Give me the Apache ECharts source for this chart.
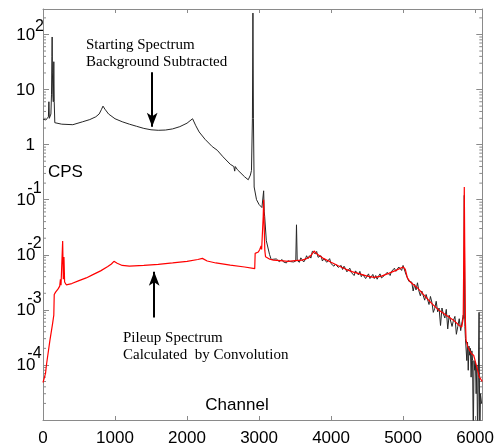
<!DOCTYPE html>
<html><head><meta charset="utf-8">
<script src="https://cdn.jsdelivr.net/npm/echarts@6/dist/echarts.min.js"></script>
<style>html,body{margin:0;padding:0;background:#fff}#c{width:497px;height:447px}</style>
</head><body><div id="c"></div>
<script>
// [channel, counts per second]
const startingSpectrum = [
 [0,2.9],[40,2.8],[60,2.9],[75,3.2],[82,6.0],[88,3.0],[100,2.9],[110,3.6],[118,8],[124,40],[127,90],[131,20],[137,8],[143,6],[150,32],[156,6],[164,2.5],[190,2.4],[260,2.35],[414,2.3],[551,2.6],[650,2.85],[733,3.2],[780,3.6],[810,4.3],[833,5.0],[860,4.4],[910,3.6],[1000,2.95],[1100,2.6],[1200,2.35],[1300,2.15],[1400,1.97],[1500,1.86],[1600,1.82],[1700,1.84],[1800,1.93],[1900,2.12],[2000,2.45],[2077,2.95],[2122,2.2],[2168,1.7],[2250,1.25],[2350,0.92],[2420,0.79],[2500,0.6],[2600,0.44],[2650,0.40],[2662,0.33],[2670,0.40],[2700,0.35],[2800,0.26],[2850,0.23],[2880,0.28],[2895,0.34],[2908,3],[2915,245],[2922,3],[2932,0.17],[2965,0.10],[3000,0.082],[3040,0.072],[3056,0.07],[3064,0.145],[3072,0.06],[3078,0.05],[3101,0.018],[3146,0.0101],[3169,0.0082],
 [3200,0.0083],[3220,0.0077],[3240,0.0084],[3260,0.0080],[3280,0.0075],[3300,0.0076],[3320,0.0082],[3340,0.0074],[3360,0.0078],[3380,0.0071],[3400,0.0078],[3420,0.0076],[3440,0.0075],[3460,0.0081],[3480,0.0074],[3500,0.0080],[3510,0.0077],[3520,0.035],[3530,0.0079],
 [3540,0.0084],[3560,0.0073],[3580,0.0088],[3600,0.0082],[3620,0.0074],[3640,0.0081],[3660,0.0096],[3680,0.0085],[3700,0.0096],[3720,0.0087],[3740,0.0116],[3760,0.0116],[3780,0.0104],[3800,0.0115],[3820,0.0090],[3840,0.0097],[3860,0.0096],[3880,0.0077],[3900,0.0085],[3920,0.0089],[3940,0.0073],[3960,0.0074],[3980,0.0085],
 [4000,0.0069],[4020,0.0075],[4040,0.0062],[4060,0.0068],[4080,0.0072],[4100,0.0059],[4120,0.0060],[4140,0.0064],[4160,0.0054],[4180,0.0062],[4200,0.0056],[4220,0.0049],[4240,0.0050],[4260,0.0057],[4280,0.0048],[4300,0.0051],[4320,0.0042],[4340,0.0051],[4360,0.0047],[4380,0.0043],[4400,0.0050],[4420,0.0040],[4440,0.0044],[4460,0.0046],[4480,0.0037],[4500,0.0041],[4520,0.0045],[4540,0.0037],[4560,0.0038],[4580,0.0044],[4600,0.0037],[4620,0.0042],[4640,0.0036],[4660,0.0041],[4680,0.0045],[4700,0.0038],[4720,0.0041],[4740,0.0042],[4760,0.0040],[4780,0.0048],[4800,0.0047],[4820,0.0042],[4840,0.0050],[4860,0.0046],[4880,0.0057],[4900,0.0050],[4920,0.0050],[4940,0.0060],[4960,0.0057],[4980,0.0052],
 [5000,0.0064],[5020,0.0060],[5040,0.0044],[5060,0.0044],[5080,0.0033],[5100,0.0032],[5120,0.0032],[5140,0.0022],[5160,0.0029],[5180,0.0023],[5200,0.0031],[5220,0.0022],[5240,0.0018],[5260,0.0022],[5280,0.0023],[5300,0.0015],[5320,0.0019],[5340,0.0018],[5360,0.00125],[5380,0.00175],[5400,0.00137],[5420,0.0009],[5440,0.00107],[5460,0.00143],[5480,0.00092],[5500,0.00108],[5520,0.00052],[5540,0.00108],[5560,0.00084],[5580,0.00071],[5600,0.00102],[5620,0.00045],[5640,0.0008],[5660,0.00084],[5680,0.0005],[5700,0.00065],[5720,0.00076],[5740,0.00036],[5760,0.0005],[5780,0.00069],[5800,0.00042],[5820,0.00062],[5835,0.0008],[5843,0.0007],[5850,0.12],[5858,0.0005],
 [5866,0.00030],[5875,0.00032],[5885,0.00012],[5895,0.00026],[5905,0.00008],[5915,0.00022],[5925,0.00015],[5935,0.00020],[5945,0.00006],[5955,0.00018],[5965,0.00012],[5975,0.000004],[5985,0.00012],[5995,0.00008],[6005,0.00011],[6015,0.00003],[6025,0.00010],[6035,0.000004],[6045,0.00006],[6055,0.0009],[6065,0.000004],[6075,0.00003],[6090,0.00002]
];
const pileupSpectrum = [
 [0,4.8e-5],[27,4.8e-5],[35,7e-5],[50,1.05e-4],[96,2.8e-4],[132,5.5e-4],[150,8e-4],[156,1.9e-3],[175,2.1e-3],[210,2.4e-3],[232,2.7e-3],[242,3.6e-3],[250,2.8e-3],[262,3.0e-3],[273,0.0178],[282,3.6e-3],[291,0.0091],[300,3.2e-3],[323,2.85e-3],
 [400,3.0e-3],[500,3.4e-3],[600,3.8e-3],[700,4.4e-3],[800,5.1e-3],[900,6.1e-3],[950,6.8e-3],[985,7.6e-3],[1030,7.0e-3],[1100,6.4e-3],[1200,6.2e-3],[1400,6.4e-3],[1600,6.7e-3],[1800,7.1e-3],[2000,7.6e-3],[2150,8.2e-3],[2213,8.6e-3],[2280,7.7e-3],[2400,7.1e-3],[2600,6.5e-3],[2800,6.0e-3],[2940,5.6e-3],
 [2946,0.0106],[2990,0.0112],[3010,0.0125],[3020,0.0122],[3028,0.0145],[3036,0.0125],[3050,0.013],[3058,0.05],[3064,0.1],[3070,0.04],[3080,0.012],[3090,0.0092],[3100,0.0089],[3150,0.0083],[3200,0.0080],[3300,0.0078],[3400,0.0076],[3500,0.0078],[3600,0.0080],[3650,0.0084],[3700,0.0091],[3740,0.0105],[3765,0.0117],[3800,0.0104],[3900,0.0085],
 [4000,0.0073],[4100,0.0063],[4200,0.0055],[4300,0.0049],[4400,0.0045],[4500,0.0041],[4600,0.0039],[4700,0.0041],[4800,0.0046],[4900,0.0052],[5000,0.0060],[5030,0.0055],[5060,0.0038],[5100,0.0032],[5200,0.0025],[5300,0.0018],[5400,0.0013],[5500,0.00098],[5600,0.0008],[5700,0.00065],[5780,0.00052],[5815,0.00049],
 [5835,0.0007],[5843,0.01],[5850,0.17],[5857,0.01],[5866,0.0006],[5875,0.00028],[5900,0.00021],[5950,0.00016],[5980,0.00015],[6000,0.00012],[6030,8.5e-5],[6060,6e-5],[6100,5e-5]
];
const xTickLabels = [0,1000,2000,3000,4000,5000,6000];
const yDecadeExponents = [-4,-3,-2,-1,0,1,2];
// annotation arrows: [channel, from cps, to cps]
const arrowStarting = [1516, 20.6, 2.11];
const arrowPileup = [1544, 7.3e-4, 0.0049];

const X_MIN = 0, X_MAX = 6100, Y_MIN = 1e-5, Y_MAX = 290;
const minorVals = [];
for (let e = -5; e <= 2; e++) for (let k = 2; k <= 9; k++) { const v = k * Math.pow(10, e); if (v <= Y_MAX) minorVals.push([X_MIN, v]); }

const AX = '#8a8a8a';
const SANS = '"Liberation Sans", Arial, sans-serif';
const SERIF = '"Liberation Serif", "Times New Roman", serif';

function yLabel(v) {
  const lg = Math.log10(v), e = Math.round(lg);
  if (Math.abs(lg - e) > 1e-6 || yDecadeExponents.indexOf(e) < 0) return '';
  if (e === 0) return '{b|1}';
  if (e === 1) return '{b|10}';
  if (e > 1) return '{b|10}{p|' + e + '}';
  return '{b|10}{m|' + e + '}';
}
const tk = {fontFamily: SANS, color: '#000', verticalAlign: 'bottom'};
const rich = {
  b: Object.assign({fontSize: 17, lineHeight: 18}, tk),
  p: Object.assign({fontSize: 16, lineHeight: 16, padding: [0, -9, 9, 0]}, tk),
  m: Object.assign({fontSize: 16, lineHeight: 16, padding: [0, -6.6, 12.5, -8]}, tk)
};

const chart = echarts.init(document.getElementById('c'), null, {renderer: 'canvas'});
chart.setOption({
  animation: false,
  backgroundColor: '#fff',
  grid: {left: 43, right: 9, top: 9, bottom: 24},
  xAxis: [
    {type: 'value', min: X_MIN, max: X_MAX, interval: 1000, position: 'bottom',
     axisLine: {show: true, onZero: false, lineStyle: {color: AX, width: 1}},
     axisTick: {inside: true, length: 4, lineStyle: {color: AX}},
     axisLabel: {color: '#000', fontSize: 17, fontFamily: SANS, margin: 10,
       formatter: v => xTickLabels.indexOf(v) >= 0 ? String(v) : ''},
     splitLine: {show: false}},
    {type: 'value', min: X_MIN, max: X_MAX, interval: 1000, position: 'top',
     axisLine: {show: true, onZero: false, lineStyle: {color: AX, width: 1}},
     axisTick: {inside: true, length: 4, lineStyle: {color: AX}},
     axisLabel: {show: false}, splitLine: {show: false}}
  ],
  yAxis: [
    {type: 'log', logBase: 10, min: Y_MIN, max: Y_MAX, position: 'left',
     axisLine: {show: true, onZero: false, lineStyle: {color: AX, width: 1}},
     axisTick: {inside: true, length: 6, lineStyle: {color: AX}},
     axisLabel: {margin: 8, formatter: yLabel, rich: rich, color: '#000'},
     splitLine: {show: false}},
    {type: 'log', logBase: 10, min: Y_MIN, max: Y_MAX, position: 'right',
     axisLine: {show: true, onZero: false, lineStyle: {color: AX, width: 1}},
     axisTick: {inside: true, length: 6, lineStyle: {color: AX}},
     axisLabel: {show: false}, splitLine: {show: false}}
  ],
  series: [
    {type: 'custom', name: 'minor ticks', data: minorVals, xAxisIndex: 0, yAxisIndex: 0, silent: true, clip: false,
     renderItem: function (params, api) {
       const v = api.value(1);
       const l = api.coord([X_MIN, v]), r = api.coord([X_MAX, v]);
       const st = {stroke: AX, lineWidth: 1};
       return {type: 'group', children: [
         {type: 'line', shape: {x1: l[0], y1: l[1], x2: l[0] + 3, y2: l[1]}, style: st},
         {type: 'line', shape: {x1: r[0] - 3, y1: r[1], x2: r[0], y2: r[1]}, style: st}
       ]};
     }},
    {type: 'line', name: 'Starting Spectrum', data: startingSpectrum, xAxisIndex: 0, yAxisIndex: 0,
     symbol: 'none', showSymbol: false, clip: true, silent: true,
     lineStyle: {color: '#262626', width: 1},
     markLine: {silent: true, symbol: ['none', 'arrow'], symbolSize: [8, 14], animation: false,
       lineStyle: {color: '#000', width: 2, type: 'solid'}, label: {show: false},
       data: [
         [{coord: [arrowStarting[0], arrowStarting[1]]}, {coord: [arrowStarting[0], arrowStarting[2]]}],
         [{coord: [arrowPileup[0], arrowPileup[1]]}, {coord: [arrowPileup[0], arrowPileup[2]]}]
       ]}},
    {type: 'line', name: 'Pileup Spectrum', data: pileupSpectrum, xAxisIndex: 0, yAxisIndex: 0,
     symbol: 'none', showSymbol: false, clip: true, silent: true,
     lineStyle: {color: '#ff0000', width: 1.2}}
  ],
  graphic: [
    {type: 'text', x: 86, y: 37, style: {text: 'Starting Spectrum\nBackground Subtracted', font: '15px ' + SERIF, fill: '#000', lineHeight: 17, verticalAlign: 'top'}},
    {type: 'text', x: 123, y: 330, style: {text: 'Pileup Spectrum\nCalculated  by Convolution', font: '15px ' + SERIF, fill: '#000', lineHeight: 17, verticalAlign: 'top'}},
    {type: 'text', x: 48, y: 172, style: {text: 'CPS', font: '17px ' + SANS, fill: '#000', verticalAlign: 'middle'}},
    {type: 'text', x: 237, y: 405, style: {text: 'Channel', font: '17px ' + SANS, fill: '#000', align: 'center', verticalAlign: 'middle'}}
  ]
});
</script></body></html>
